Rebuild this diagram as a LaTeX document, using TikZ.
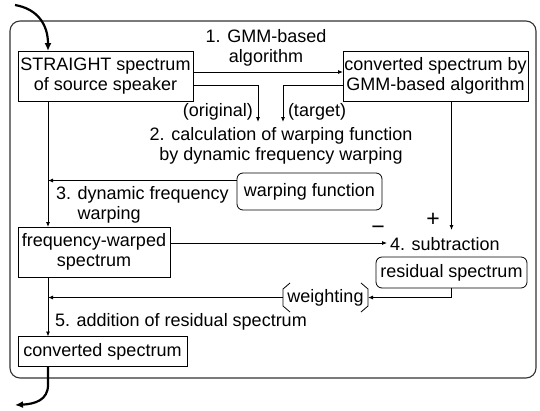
\documentclass[tikz,border=0pt]{standalone}
\usepackage{fontspec}
\setmainfont{Liberation Sans}
\usetikzlibrary{arrows.meta,calc}

\begin{document}
\begin{tikzpicture}[x=1pt,y=-1pt,
  font=\fontsize{18}{20.5}\selectfont,
  every node/.style={inner sep=0pt, outer sep=0pt},
  box/.style={draw, line width=0.8pt, align=center, minimum width=#1},
  rbox/.style={box=#1, rounded corners=6pt},
  sign/.style={font=\fontsize{23}{23}\selectfont},
  arr/.style={line width=0.8pt, -{Latex[length=5pt,width=4pt]}},
  bigarr/.style={line width=2.2pt, -{Latex[length=8pt,width=7pt]}},
  frame/.style={draw=black!80, line width=1.1pt, rounded corners=10pt}
]
\useasboundingbox (0,0) rectangle (540,410);

% enclosing frame of the conversion process
\draw[frame] (10,21) rectangle (536,378);

% processing blocks
\node[box=175pt, minimum height=50pt] (b1) at (105.5,76) {STRAIGHT spectrum\\of source speaker};
\node[box=185pt, minimum height=50pt] (b2) at (435.5,76) {converted spectrum by\\GMM-based algorithm};
\node[rbox=145pt, minimum height=37pt] (wf) at (309.5,191.5) {warping function};
\node[box=152pt, minimum height=50pt] (fw) at (94,252) {frequency-warped\\spectrum};
\node[rbox=151pt, minimum height=31pt] (rs) at (451.5,272.5) {residual spectrum};
\node[minimum width=85pt, minimum height=29pt] (wt) at (325.5,297.5) {weighting};
\node[box=169pt, minimum height=30pt] (cv) at (102.5,351.5) {converted spectrum};

% bracket marks around the weighting step
\draw[line width=0.8pt] ([xshift=7pt]wt.north west) -- ([yshift=-6pt]wt.north west)
  -- ([yshift=6pt]wt.south west) -- ([xshift=7pt]wt.south west);
\draw[line width=0.8pt] ([xshift=-7pt]wt.north east) -- ([yshift=-6pt]wt.north east)
  -- ([yshift=6pt]wt.south east) -- ([xshift=-7pt]wt.south east);

% step labels
\node[align=center] (l1) at (266,48) {1. GMM-based\\algorithm};
\node[anchor=east] (lo) at (253,112) {(original)};
\node[anchor=west] (lt) at (288,112) {(target)};
\node[align=center] (l2) at (281,146) {2. calculation of warping function\\by dynamic frequency warping};
\node[align=left, anchor=west] (l3) at (56,205) {3. dynamic frequency\\\phantom{3. }warping};
\node[anchor=west] (sub) at (390,244) {4. subtraction};
\node[sign] (plus) at (433,220) {+};
\node[sign] (minus) at (378,230) {−};
\node[anchor=west] (l5) at (55,322) {5. addition of residual spectrum};

% connectors
\coordinate (spine) at (48,0);
\coordinate (oe) at (258,122);
\coordinate (te) at (283,122);
\coordinate (se) at (451.5,230);

\draw[arr] (b1.south -| spine) -- (fw.north -| spine);
\draw[arr] (fw.south -| spine) -- (cv.north -| spine);
\draw[arr] ([yshift=4pt]b1.east) -- ([yshift=4pt]b1.east -| b2.west);
\draw[arr] ([yshift=-9pt]b1.east) -| (oe);
\draw[arr] ([yshift=-9pt]b2.west) -| (te);
\draw[arr] ([yshift=11pt]wf.west) -- ([yshift=11pt]wf.west -| spine);
\draw[arr, shorten >=3pt] ([yshift=9pt]fw.east) -- ([yshift=9pt]fw.east -| sub.west);
\draw[arr] (b2.south -| se) -- (se);
\draw[arr] (rs.south) |- (wt.east);
\draw[arr] (wt.west) -- (wt.west -| spine);

% input and output of the process
\coordinate (in) at (15,5);
\coordinate (bend) at (48,385);
\coordinate (out) at (15,405);
\draw[bigarr] (in) .. controls (38,9) and (48,25) .. (b1.north -| spine);
\draw[bigarr] (cv.south -| spine) -- (bend) .. controls (48,400) and (35,404) .. (out);
\end{tikzpicture}
\end{document}
